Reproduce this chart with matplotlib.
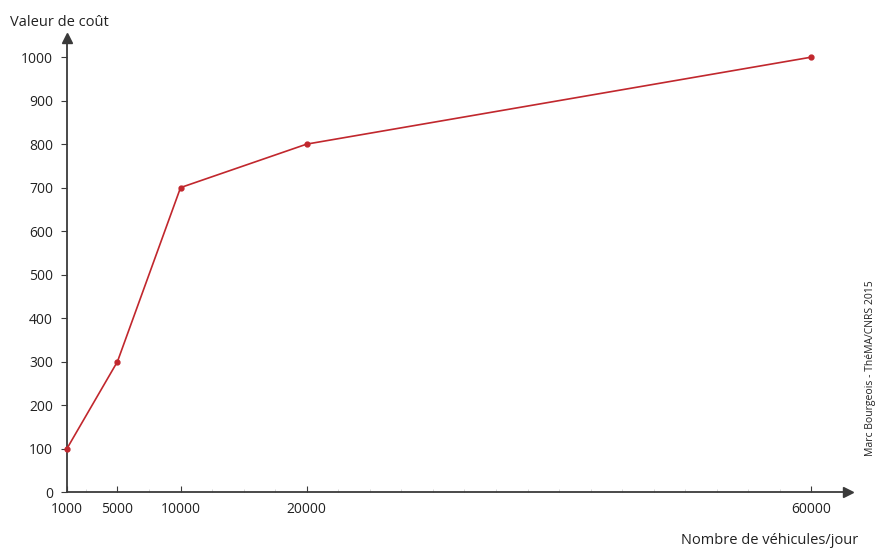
import matplotlib.pyplot as plt
from matplotlib.ticker import MultipleLocator

plt.rcParams['font.family'] = ['Open Sans', 'DejaVu Sans']

vehicules = [1000, 5000, 10000, 20000, 60000]
cout = [100, 300, 700, 800, 1000]
xticks = [1000, 5000, 10000, 20000, 60000]
yticks = list(range(0, 1001, 100))

axis_col = "#3a3a3a"
line_col = "#c1272d"

fig = plt.figure(figsize=(8.75, 5.48), dpi=100)
ax = fig.add_axes([67 / 875, 1 - 492 / 548, (848 - 67) / 875, (492 - 38) / 548])

ax.plot(vehicules, cout, color=line_col, lw=1.2, marker="o", ms=3.5, clip_on=False, zorder=3)

ax.set_xlim(1000, 62900)
ax.set_ylim(0, 1044)

for s in ["top", "right"]:
    ax.spines[s].set_visible(False)
for s in ["left", "bottom"]:
    ax.spines[s].set_color(axis_col)
    ax.spines[s].set_linewidth(1.3)

# flèches au bout des axes
ax.plot(1, 0, ">", color=axis_col, ms=7, transform=ax.transAxes, clip_on=False)
ax.plot(0, 1, "^", color=axis_col, ms=7, transform=ax.transAxes, clip_on=False)

ax.set_xticks(xticks)
ax.set_xticklabels([str(v) for v in xticks])
ax.set_yticks(yticks)
ax.xaxis.set_minor_locator(MultipleLocator(2500))
ax.yaxis.set_minor_locator(MultipleLocator(50))
ax.tick_params(axis="x", which="major", direction="in", length=4, color=axis_col, pad=7, labelsize=10, labelcolor="#222")
ax.tick_params(axis="x", which="minor", direction="in", length=2, color="#d0d0d0")
ax.tick_params(axis="y", which="major", direction="out", length=4, color=axis_col, pad=6, labelsize=10, labelcolor="#222")
ax.tick_params(axis="y", which="minor", direction="out", length=0)

fig.text(10 / 875, 1 - 23 / 548, "Valeur de coût", fontsize=10.5, color="#222", va="center", ha="left")
fig.text(858 / 875, 1 - 540 / 548, "Nombre de véhicules/jour", fontsize=10.5, color="#222", va="center", ha="right")
fig.text(871 / 875, 1 - 368 / 548, "Marc Bourgeois - ThéMA/CNRS 2015", fontsize=7.5, color="#222",
         rotation=90, va="center", ha="center")

fig.savefig("out.png", dpi=100)
